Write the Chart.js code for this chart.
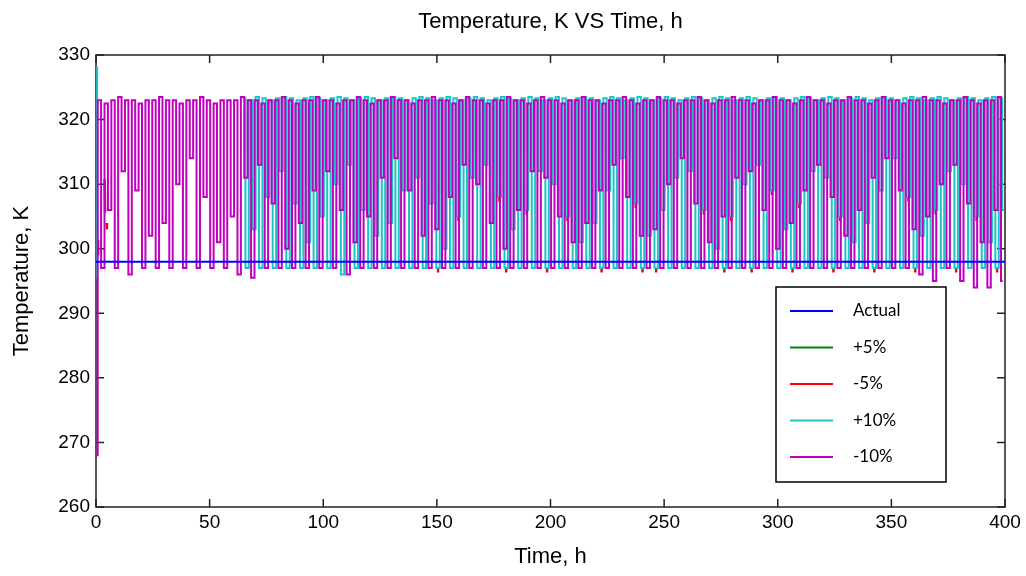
<!DOCTYPE html>
<html><head><meta charset="utf-8">
<script src="https://cdn.jsdelivr.net/npm/chart.js@4.4.1/dist/chart.umd.min.js"></script>
<style>html,body{margin:0;padding:0;background:#fff;}canvas{display:block;}</style>
</head><body>
<canvas id="c" width="1026" height="576"></canvas>
<script>
const chartTitle = 'Temperature, K VS Time, h';
const xTitle = 'Time, h';
const yTitle = 'Temperature, K';
const seriesLabels = ['Actual', '+5%', '-5%', '+10%', '-10%'];
const seriesColors = ['#0000FF', '#008000', '#FF0000', '#1CC4C4', '#BF00BF'];
const xTicks = [0, 50, 100, 150, 200, 250, 300, 350, 400];
const yTicks = [260, 270, 280, 290, 300, 310, 320, 330];

const actualT = [0, 400];
const actualV = [298, 298];

const plus5T = [0, 0.3];
const plus5V = [316, 307];

const minus5T = [0.9,0.9,0.9, 3.8,4.0,4.0, 4.8,4.8,4.8,
 150.5,150.5,150.5, 159.5,159.5,159.5, 177.5,177.5,177.5, 180.5,180.5,180.5, 189.5,189.5,189.5,
 198.5,198.5,198.5, 207.5,207.5,207.5, 222.5,222.5,222.5, 237.5,237.5,237.5, 240.5,240.5,240.5,
 246.5,246.5,246.5, 267.5,267.5,267.5, 276.5,276.5,276.5, 279.5,279.5,279.5, 288.5,288.5,288.5,
 297.5,297.5,297.5, 306.5,306.5,306.5, 309.5,309.5,309.5, 324.5,324.5,324.5, 327.5,327.5,327.5,
 342.5,342.5,342.5, 357.5,357.5,357.5, 360.5,360.5,360.5, 369.5,369.5,369.5, 378.5,378.5,378.5,
 387.5,387.5,387.5, 396.5,396.5,396.5];
const minus5V = [301.4,299,null, 310.8,305.6,null, 304,303,null,
 296.9,296.3,null, 304.9,304.3,null, 307.9,307.3,null, 296.9,296.3,null, 305.9,305.3,null,
 296.9,296.3,null, 304.9,304.3,null, 296.9,296.3,null, 306.9,306.3,null, 296.9,296.3,null,
 296.9,296.3,null, 305.9,305.3,null, 296.9,296.3,null, 304.9,304.3,null, 296.9,296.3,null,
 308.9,308.3,null, 296.9,296.3,null, 306.9,306.3,null, 296.9,296.3,null, 304.9,304.3,null,
 296.9,296.3,null, 307.9,307.3,null, 296.9,296.3,null, 305.9,305.3,null, 296.9,296.3,null,
 304.9,304.3,null, 296.9,296.3,null];

const plus10T = [0, 1.0, 1.05,
 65,66.5,68,69.5,71,72.5,74,75.5,77,78.5,80,81.5,83,84.5,86,87.5,89,90.5,92,93.5,95,96.5,98,99.5,
 101,102.5,104,105.5,107,108.5,110,111.5,113,114.5,116,117.5,119,120.5,122,123.5,125,126.5,128,129.5,
 131,132.5,134,135.5,137,138.5,140,141.5,143,144.5,146,147.5,149,150.5,152,153.5,155,156.5,158,159.5,
 161,162.5,164,165.5,167,168.5,170,171.5,173,174.5,176,177.5,179,180.5,182,183.5,185,186.5,188,189.5,
 191,192.5,194,195.5,197,198.5,200,201.5,203,204.5,206,207.5,209,210.5,212,213.5,215,216.5,218,219.5,
 221,222.5,224,225.5,227,228.5,230,231.5,233,234.5,236,237.5,239,240.5,242,243.5,245,246.5,248,249.5,
 251,252.5,254,255.5,257,258.5,260,261.5,263,264.5,266,267.5,269,270.5,272,273.5,275,276.5,278,279.5,
 281,282.5,284,285.5,287,288.5,290,291.5,293,294.5,296,297.5,299,300.5,302,303.5,305,306.5,308,309.5,
 311,312.5,314,315.5,317,318.5,320,321.5,323,324.5,326,327.5,329,330.5,332,333.5,335,336.5,338,339.5,
 341,342.5,344,345.5,347,348.5,350,351.5,353,354.5,356,357.5,359,360.5,362,363.5,365,366.5,368,369.5,
 371,372.5,374,375.5,377,378.5,380,381.5,383,384.5,386,387.5,389,390.5,392,393.5,395,396.5,398,399.5];
const plus10V = [328, 295.5, null,
 323.3,297,323,303,323.5,297,323.3,308,323,297,323.3,312,323.5,297,323.3,307,323,297,323.3,301,
 323.5,297,323.3,305,323,297,323.3,310,323.5,296,323.3,313,323,297,323.3,306,323.5,297,323.3,302,
 323,297,323.3,304,323.5,297,323.3,309,323,297,323.3,311,323.5,297,323.3,307,323,297,323.3,300,
 323.5,297,323.3,305,323,297,323.3,311,323.5,297,323.3,313,323,297,323.3,308,323.5,297,323.3,303,
 323,297,323.3,306,323.5,297,323.3,312,323,297,323.3,310,323.5,297,323.3,305,323,297,323.3,301,
 323.5,297,323.3,304,323,297,323.3,309,323.5,297,323.3,314,323,297,323.3,307,323.5,297,323.3,302,
 323,297,323.3,306,323.5,297,323.3,311,323,297,323.3,312,323.5,297,323.3,306,323,297,323.3,300,
 323.5,297,323.3,305,323,297,323.3,310,323.5,297,323.3,313,323,297,323.3,309,323.5,297,323.3,303,
 323,297,323.3,307,323.5,297,323.3,312,323,297,323.3,311,323.5,297,323.3,305,323,297,323.3,301,
 323.5,297,323.3,304,323,297,323.3,309,323.5,297,323.3,314,323,297,323.3,308,323.5,297,323.3,302,
 323,297,323.3,306,323.5,297,323.3,312,323,297,323.3,310,323.5,297,323.3,305,323,297,323.3,301,
 323.5,297,323.3,306];

const minus10T = [0,1.5,3,4.5,6,7.5,9,10.5,12,13.5,15,16.5,18,19.5,21,22.5,24,25.5,27,28.5,30,31.5,33,34.5,
 36,37.5,39,40.5,42,43.5,45,46.5,48,49.5,51,52.5,54,55.5,57,58.5,60,61.5,63,64.5,66,67.5,69,70.5,72,73.5,
 75,76.5,78,79.5,81,82.5,84,85.5,87,88.5,90,91.5,93,94.5,96,97.5,99,100.5,102,103.5,105,106.5,108,109.5,
 111,112.5,114,115.5,117,118.5,120,121.5,123,124.5,126,127.5,129,130.5,132,133.5,135,136.5,138,139.5,
 141,142.5,144,145.5,147,148.5,150,151.5,153,154.5,156,157.5,159,160.5,162,163.5,165,166.5,168,169.5,
 171,172.5,174,175.5,177,178.5,180,181.5,183,184.5,186,187.5,189,190.5,192,193.5,195,196.5,198,199.5,
 201,202.5,204,205.5,207,208.5,210,211.5,213,214.5,216,217.5,219,220.5,222,223.5,225,226.5,228,229.5,
 231,232.5,234,235.5,237,238.5,240,241.5,243,244.5,246,247.5,249,250.5,252,253.5,255,256.5,258,259.5,
 261,262.5,264,265.5,267,268.5,270,271.5,273,274.5,276,277.5,279,280.5,282,283.5,285,286.5,288,289.5,
 291,292.5,294,295.5,297,298.5,300,301.5,303,304.5,306,307.5,309,310.5,312,313.5,315,316.5,318,319.5,
 321,322.5,324,325.5,327,328.5,330,331.5,333,334.5,336,337.5,339,340.5,342,343.5,345,346.5,348,349.5,
 351,352.5,354,355.5,357,358.5,360,361.5,363,364.5,366,367.5,369,370.5,372,373.5,375,376.5,378,379.5,
 381,382.5,384,385.5,387,388.5,390,391.5,393,394.5,396,397.5,399];
const minus10V = [268,
 323,297,322.5,306,323,297,323.5,312,323,296,323,309,322.5,297,323,302,323,297,323.5,304,
 323,297,323,310,322.5,297,323,314,323,297,323.5,308,323,297,322.5,301,323,297,323,305,
 323,296,323.5,311,323,295.5,323,313,322.5,297,323,307,323,297,323.5,300,323,297,322.5,304,
 323,297,323,309,323.5,297,323,312,323,297,322.5,306,323,296,323,301,323.5,297,323,305,
 322.5,297,323,311,323,297,323.5,314,323,297,323,309,322.5,297,323,302,323,297,323.5,303,
 323,297,323,308,322.5,297,323,313,323.5,297,323,310,323,297,322.5,304,323,297,323,300,
 323.5,297,323,306,323,297,322.5,312,323,297,323.5,311,323,297,323,305,322.5,297,323,301,
 323,297,323.5,304,323,297,323,309,322.5,297,323,313,323,297,323.5,308,323,297,322.5,302,
 323,297,323,303,323.5,297,323,310,323,297,322.5,314,323,297,323,307,323.5,297,323,301,
 322.5,297,323,305,323,297,323.5,311,323,297,323,312,322.5,297,323,306,323,297,323.5,300,
 323,297,323,304,322.5,297,323,309,323.5,297,323,313,323,297,322.5,308,323,297,323,302,
 323.5,297,323,306,323,297,322.5,311,323,297,323.5,314,323,297,323,309,322.5,297,323,303,
 323,296,323.5,305,323,295,323,310,322.5,297,323,313,323,295,323.5,307,323,294,322.5,301,
 323,294,323,306,323.5,295];

function pts(ts, vs) { return ts.map((t, i) => ({ x: t, y: vs[i] })); }

const tickFont = { family: "'Liberation Sans', Arial, sans-serif", size: 19 };
const titleFont = { family: "'Liberation Sans', Arial, sans-serif", size: 22 };

const framePlugin = {
  id: 'frame',
  beforeDatasetsDraw(chart) {
    const { ctx, chartArea: a, scales: { x, y } } = chart;
    ctx.save();
    ctx.strokeStyle = '#222';
    ctx.lineWidth = 1.5;
    ctx.strokeRect(a.left, a.top, a.right - a.left, a.bottom - a.top);
    ctx.beginPath();
    xTicks.forEach(v => {
      const p = x.getPixelForValue(v);
      ctx.moveTo(p, a.bottom); ctx.lineTo(p, a.bottom - 8);
      ctx.moveTo(p, a.top); ctx.lineTo(p, a.top + 8);
    });
    yTicks.forEach(v => {
      const p = y.getPixelForValue(v);
      ctx.moveTo(a.left, p); ctx.lineTo(a.left + 8, p);
      ctx.moveTo(a.right, p); ctx.lineTo(a.right - 8, p);
    });
    ctx.stroke();
    ctx.restore();
  },
  afterDatasetsDraw(chart) {
    const { ctx } = chart;
    const bx = 776, by = 287, bw = 170, bh = 195;
    ctx.save();
    ctx.fillStyle = '#fff';
    ctx.fillRect(bx, by, bw, bh);
    ctx.lineWidth = 1.5;
    ctx.strokeStyle = '#000';
    ctx.strokeRect(bx, by, bw, bh);
    ctx.font = "17px Lato, 'Open Sans', sans-serif";
    ctx.textBaseline = 'middle';
    ctx.textAlign = 'left';
    seriesLabels.forEach((lab, i) => {
      const yy = by + 24 + i * 36.5;
      ctx.strokeStyle = seriesColors[i];
      ctx.lineWidth = 2;
      ctx.beginPath(); ctx.moveTo(bx + 14, yy); ctx.lineTo(bx + 57, yy); ctx.stroke();
      ctx.fillStyle = '#000';
      ctx.fillText(lab, bx + 77, yy);
    });
    ctx.restore();
  }
};

const lineBase = { pointRadius: 0, tension: 0, borderWidth: 2, fill: false, borderJoinStyle: 'miter' };

new Chart(document.getElementById('c'), {
  type: 'line',
  data: {
    datasets: [
      { ...lineBase, label: seriesLabels[0], data: pts(actualT, actualV), borderColor: seriesColors[0], borderWidth: 2, order: 0 },
      { ...lineBase, label: seriesLabels[1], data: pts(plus5T, plus5V), borderColor: seriesColors[1], order: 4 },
      { ...lineBase, label: seriesLabels[2], data: pts(minus5T, minus5V), borderColor: seriesColors[2], borderWidth: 2.5, order: 3 },
      { ...lineBase, label: seriesLabels[3], data: pts(plus10T, plus10V), borderColor: seriesColors[3], stepped: 'middle', order: 2 },
      { ...lineBase, label: seriesLabels[4], data: pts(minus10T, minus10V), borderColor: seriesColors[4], stepped: 'middle', order: 1 }
    ]
  },
  options: {
    responsive: false,
    animation: false,
    devicePixelRatio: 1,
    layout: { padding: { left: 0, right: 21, top: 0, bottom: 0 } },
    plugins: {
      legend: { display: false },
      tooltip: { enabled: false },
      title: {
        display: true, text: chartTitle, fullSize: false, color: '#000',
        font: { ...titleFont, weight: 'normal' }, padding: { top: 8.8, bottom: 19.8 }
      }
    },
    scales: {
      x: {
        type: 'linear', min: 0, max: 400,
        afterFit: s => { s.height = 69; },
        afterBuildTicks: s => { s.ticks = xTicks.map(v => ({ value: v })); },
        grid: { display: false, drawTicks: false },
        border: { display: false },
        ticks: { font: tickFont, color: '#000', padding: 4, autoSkip: false, maxRotation: 0 },
        title: { display: true, text: xTitle, color: '#000', font: titleFont, padding: { top: 0, bottom: 5.8 } }
      },
      y: {
        type: 'linear', min: 260, max: 330,
        afterFit: s => { s.width = 96; },
        afterBuildTicks: s => { s.ticks = yTicks.map(v => ({ value: v })); },
        grid: { display: false, drawTicks: false },
        border: { display: false },
        ticks: { font: tickFont, color: '#000', padding: 6 },
        title: { display: true, text: yTitle, color: '#000', font: titleFont, padding: { top: 8.8, bottom: 0 } }
      }
    }
  },
  plugins: [framePlugin]
});
</script>
</body></html>
